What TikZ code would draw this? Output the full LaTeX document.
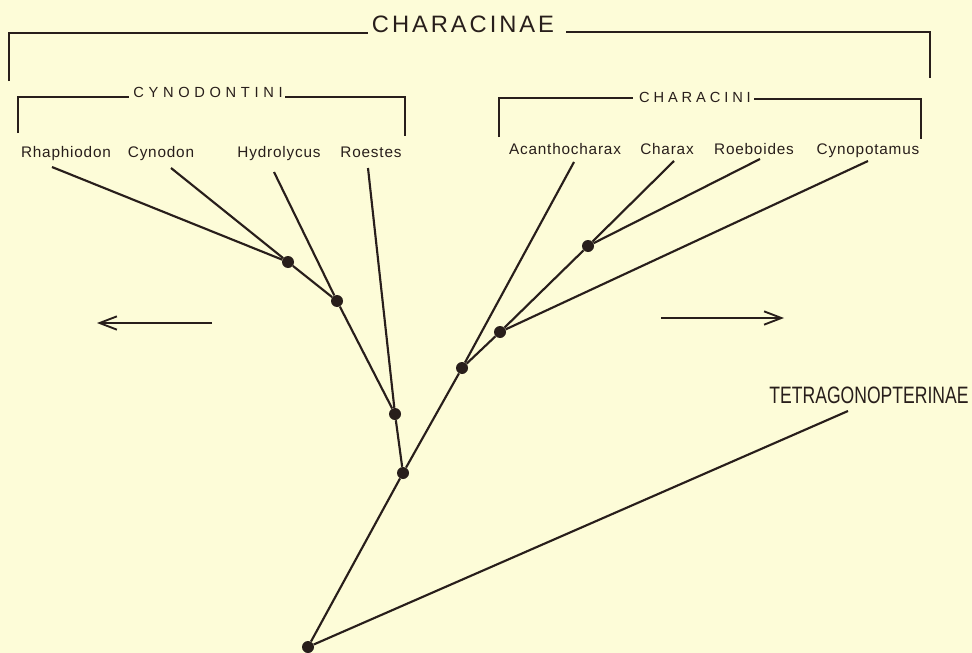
\documentclass[tikz,border=0pt]{standalone}
\usepackage{fontspec}
\setmainfont{Liberation Sans}
\usepackage{graphicx}
\usetikzlibrary{arrows.meta}
\definecolor{paper}{RGB}{253,252,216}
\definecolor{ink}{RGB}{40,30,27}
\makeatletter
\newcommand{\spreadword}[2]{{\def\sw@gap{#1}\@tfor\sw@c:=#2\do{\sw@c\kern\sw@gap}\unkern}}
\makeatother
\newcommand{\taxon}[1]{\spreadword{0.6pt}{#1}}

\tikzset{
  branch/.style={draw=ink, line width=1.6pt},
  bracket/.style={draw=ink, line width=1.3pt},
  fork/.style={circle, fill=ink, inner sep=0pt, minimum size=9pt},
  genus/.style={anchor=base, text=ink, font=\fontsize{11.5}{13}\selectfont},
  tribe/.style={anchor=base, text=ink, font=\fontsize{11}{13}\selectfont},
  family/.style={anchor=base, text=ink, font=\fontsize{17.8}{20}\selectfont},
  trend/.style={draw=ink, line width=1.4pt, -{Straight Barb[length=13pt,width=10pt]}},
}

\begin{document}
\begin{tikzpicture}[x=0.75pt,y=-0.75pt]
\fill[paper] (0,0) rectangle (972,653);
\useasboundingbox (0,0) rectangle (972,653);

% group names and brackets
\node[family] (characinae) at (463,32) {\spreadword{2.2pt}{CHARACINAE}};
\node[tribe] (cynodontini) at (208,97) {\spreadword{3.5pt}{CYNODONTINI}};
\node[tribe] (characini) at (695,102) {\spreadword{2.9pt}{CHARACINI}};
\node[family] (tetra) at (869,403) {\scalebox{0.74}[1]{TETRAGONOPTERINAE}};

\draw[bracket] (9,81) |- (368,33);
\draw[bracket] (566,32) -| (930,78);
\draw[bracket] (18,133) |- (129,97);
\draw[bracket] (285,97) -| (405,136);
\draw[bracket] (499,137) |- (633,98);
\draw[bracket] (754,99) -| (921,139);

% genera
\node[genus] (rhaphiodon) at (66,157) {\taxon{Rhaphiodon}};
\node[genus] (cynodon) at (161,157) {\taxon{Cynodon}};
\node[genus] (hydrolycus) at (279,157) {\taxon{Hydrolycus}};
\node[genus] (roestes) at (371,157) {\taxon{Roestes}};
\node[genus] (acanthocharax) at (565,154) {\taxon{Acanthocharax}};
\node[genus] (charax) at (667,154) {\taxon{Charax}};
\node[genus] (roeboides) at (754,154) {\taxon{Roeboides}};
\node[genus] (cynopotamus) at (868,154) {\taxon{Cynopotamus}};

% branch tips
\coordinate (rhaTip) at (52,167);
\coordinate (cynTip) at (171,168);
\coordinate (hydTip) at (274,172);
\coordinate (roeTip) at (368,168);
\coordinate (acaTip) at (574,162);
\coordinate (chaTip) at (674,161);
\coordinate (robTip) at (760,159);
\coordinate (cypTip) at (868,161);
\coordinate (tetTip) at (848,411);

% forks
\node[fork] (forkA) at (288,262) {};
\node[fork] (forkB) at (337,301) {};
\node[fork] (forkC) at (395,414) {};
\node[fork] (forkD) at (403,473) {};
\node[fork] (forkE) at (462,368) {};
\node[fork] (forkF) at (500,332) {};
\node[fork] (forkG) at (588,246) {};
\node[fork] (root) at (308,647) {};

% cynodontin branches
\draw[branch] (rhaTip) -- (forkA);
\draw[branch] (cynTip) -- (forkA);
\draw[branch] (forkA) -- (forkB);
\draw[branch] (hydTip) -- (forkB);
\draw[branch] (forkB) -- (forkC);
\draw[branch] (roeTip) -- (forkC);
\draw[branch] (forkC) -- (forkD);
% characin branches
\draw[branch] (forkD) -- (forkE);
\draw[branch] (acaTip) -- (forkE);
\draw[branch] (forkE) -- (forkF);
\draw[branch] (cypTip) -- (forkF);
\draw[branch] (forkF) -- (forkG);
\draw[branch] (chaTip) -- (forkG);
\draw[branch] (robTip) -- (forkG);
% base
\draw[branch] (forkD) -- (root);
\draw[branch] (root) -- (tetTip);

% arrows
\coordinate (leftTail) at (212,323);
\coordinate (leftHead) at (97,323);
\coordinate (rightTail) at (661,318);
\coordinate (rightHead) at (784,318);
\draw[trend] (leftTail) -- (leftHead);
\draw[trend] (rightTail) -- (rightHead);

\end{tikzpicture}
\end{document}
